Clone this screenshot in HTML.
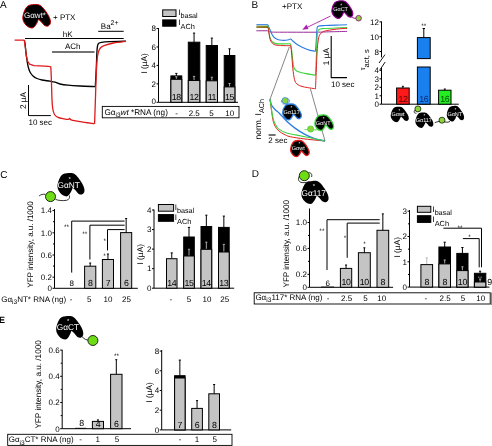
<!DOCTYPE html>
<html><head><meta charset="utf-8"><style>
html,body{margin:0;padding:0;background:#fff;}
svg{display:block;will-change:transform;filter:blur(0.25px);}
text{font-family:"Liberation Sans", sans-serif;text-rendering:geometricPrecision;}
</style></head><body>
<svg width="492" height="446" viewBox="0 0 492 446">
<rect width="492" height="446" fill="#fff"/>
<text x="0" y="7.6" font-size="10" text-anchor="start" fill="#000" >A</text>
<path d="M57,53 C58.7,54.5 63.3,58.3 67,62 C70.7,65.7 74.8,72.6 79,75 C83.2,77.4 88.5,78.3 92,76.5 C95.5,74.7 99.8,70.1 100,64 C100.2,57.9 98.5,49.7 93,40 C87.5,30.3 75.5,12.7 67,6 C58.5,-0.7 50.7,-0.5 42,0 C33.3,0.5 21.8,1.2 15,9 C8.2,16.8 1.5,36.3 1,47 C0.5,57.7 6.5,66.8 12,73 C17.5,79.2 28.0,84.2 34,84 C40.0,83.8 44.2,77.2 48,72 C51.8,66.8 55.5,56.2 57,53 Z" transform="translate(22.5,4.5) scale(0.28,0.27976190476190477)" fill="#000" stroke="#c80000" stroke-width="3.57"/>
<text x="24.0" y="18.2" font-size="8" text-anchor="start" fill="#fff" >G&#945;wt*</text>
<text x="53" y="20" font-size="8" text-anchor="start" fill="#000" >+ PTX</text>
<text x="100.8" y="28.6" font-size="8" text-anchor="start" fill="#000" >Ba<tspan font-size="7" dy="-4">2+</tspan></text>
<line x1="98.2" y1="31.3" x2="123.7" y2="31.3" stroke="#000" stroke-width="1" />
<text x="62.8" y="36.8" font-size="8" text-anchor="start" fill="#000" >hK</text>
<line x1="25" y1="38.5" x2="123.7" y2="38.5" stroke="#000" stroke-width="1" />
<text x="65" y="49" font-size="8" text-anchor="start" fill="#000" >ACh</text>
<line x1="52" y1="52" x2="94.5" y2="52" stroke="#444" stroke-width="1.3" />
<path d="M24.5,40.3 C24.63,41.25 24.97,43.22 25.3,46 C25.63,48.78 26.05,53.67 26.5,57 C26.95,60.33 27.42,63.50 28,66 C28.58,68.50 29.17,70.33 30,72 C30.83,73.67 31.83,74.92 33,76 C34.17,77.08 35.50,77.83 37,78.5 C38.50,79.17 39.83,79.55 42,80 C44.17,80.45 47.83,80.83 50,81.2 C52.17,81.57 53.33,81.73 55,82.2 C56.67,82.67 57.83,83.50 60,84 C62.17,84.50 64.67,84.87 68,85.2 C71.33,85.53 75.45,85.77 80,86 C84.55,86.23 92.75,86.50 95.3,86.6" fill="none" stroke="#000" stroke-width="1.3" stroke-linejoin="round" />
<path d="M95.3,86.6 C95.45,83.83 95.93,75.77 96.2,70 C96.47,64.23 96.67,56.08 96.9,52 C97.13,47.92 97.28,46.97 97.6,45.5 C97.92,44.03 98.15,43.73 98.8,43.2 C99.45,42.67 99.63,42.55 101.5,42.3 C103.37,42.05 105.92,41.88 110,41.7 C114.08,41.52 123.33,41.28 126,41.2" fill="none" stroke="#000" stroke-width="1.3" stroke-linejoin="round" />
<polyline points="14.6,40.2 24.2,40.2 25,45 26.2,55 27.5,61 29.5,64.2 34,65.6 45,66.2 50.8,66.6" fill="none" stroke="#e01a1a" stroke-width="1.3" stroke-linejoin="round" />
<path d="M50.8,66.6 C50.90,68.83 51.20,74.43 51.4,80 C51.60,85.57 51.77,95.17 52,100 C52.23,104.83 52.38,106.58 52.8,109 C53.22,111.42 53.63,113.12 54.5,114.5 C55.37,115.88 56.42,116.58 58,117.3 C59.58,118.02 62.30,118.45 64,118.8 C65.70,119.15 67.27,119.47 68.2,119.4 C69.13,119.33 69.10,118.33 69.6,118.4 C70.10,118.47 69.47,119.27 71.2,119.8 C72.93,120.33 76.10,120.95 80,121.6 C83.90,122.25 92.17,123.35 94.6,123.7" fill="none" stroke="#e01a1a" stroke-width="1.3" stroke-linejoin="round" />
<path d="M94.6,123.7 C94.73,119.75 95.13,108.12 95.4,100 C95.67,91.88 95.92,81.67 96.2,75 C96.48,68.33 96.73,63.83 97.1,60 C97.47,56.17 97.82,54.03 98.4,52 C98.98,49.97 99.67,48.87 100.6,47.8 C101.53,46.73 101.83,46.40 104,45.6 C106.17,44.80 109.97,43.72 113.6,43 C117.23,42.28 123.77,41.58 125.8,41.3" fill="none" stroke="#e01a1a" stroke-width="1.3" stroke-linejoin="round" />
<polyline points="28.5,85 28.5,115.6 50.8,115.6" fill="none" stroke="#000" stroke-width="1" stroke-linejoin="round" />
<text transform="translate(25.8,100.5) rotate(-90)" font-size="8.3" text-anchor="middle" >2 &#181;A</text>
<text x="28.5" y="125.2" font-size="8" text-anchor="start" fill="#000" >10 sec</text>
<line x1="158.5" y1="28.039999999999992" x2="158.5" y2="102.3" stroke="#000" stroke-width="1" />
<line x1="156.5" y1="102.3" x2="158.5" y2="102.3" stroke="#000" stroke-width="1" />
<line x1="156.5" y1="83.86" x2="158.5" y2="83.86" stroke="#000" stroke-width="1" />
<line x1="156.5" y1="65.41999999999999" x2="158.5" y2="65.41999999999999" stroke="#000" stroke-width="1" />
<line x1="156.5" y1="46.97999999999999" x2="158.5" y2="46.97999999999999" stroke="#000" stroke-width="1" />
<line x1="156.5" y1="28.539999999999992" x2="158.5" y2="28.539999999999992" stroke="#000" stroke-width="1" />
<text x="155.9" y="103.5" font-size="8" text-anchor="end" fill="#000" >0</text>
<text x="155.9" y="86.66" font-size="8" text-anchor="end" fill="#000" >2</text>
<text x="155.9" y="68.21999999999998" font-size="8" text-anchor="end" fill="#000" >4</text>
<text x="155.9" y="49.77999999999999" font-size="8" text-anchor="end" fill="#000" >6</text>
<text x="155.9" y="31.339999999999993" font-size="8" text-anchor="end" fill="#000" >8</text>
<line x1="158.5" y1="102.3" x2="238" y2="102.3" stroke="#000" stroke-width="1" />
<text transform="translate(147.2,63.4) rotate(-90)" font-size="8.3" text-anchor="middle" >I (&#181;A)</text>
<rect x="162.7" y="9.9" width="13.3" height="6.6" fill="#c4c4c4" stroke="#000" stroke-width="1"/>
<rect x="162.7" y="19.9" width="13.3" height="6.3" fill="#000" stroke="#000" stroke-width="1"/>
<text x="178.3" y="15.3" font-size="8" text-anchor="start" fill="#000" >I<tspan font-size="7.2" dy="3.0">basal</tspan></text>
<text x="178.3" y="25.3" font-size="8" text-anchor="start" fill="#000" >I<tspan font-size="7.4" dy="3.9">ACh</tspan></text>
<rect x="170.9" y="75.9" width="10.900000000000006" height="26.39999999999999" fill="#000" stroke="#000" stroke-width="1"/>
<line x1="176.35000000000002" y1="73.4" x2="176.35000000000002" y2="75.9" stroke="#000" stroke-width="1" />
<line x1="175.25000000000003" y1="73.4" x2="177.45000000000002" y2="73.4" stroke="#000" stroke-width="1" />
<rect x="170.9" y="79.3" width="10.900000000000006" height="23.0" fill="#c4c4c4" stroke="#000" stroke-width="1"/>
<line x1="176.35000000000002" y1="76.8" x2="176.35000000000002" y2="78.8" stroke="#a8a8a8" stroke-width="1" />
<line x1="175.25000000000003" y1="76.8" x2="177.45000000000002" y2="76.8" stroke="#a8a8a8" stroke-width="1" />
<text x="176.35000000000002" y="100.39999999999999" font-size="8.8" text-anchor="middle" fill="#000" letter-spacing="-0.35">18</text>
<rect x="188.3" y="42.2" width="11.5" height="60.099999999999994" fill="#000" stroke="#000" stroke-width="1"/>
<line x1="194.05" y1="33.1" x2="194.05" y2="42.2" stroke="#000" stroke-width="1" />
<line x1="192.95000000000002" y1="33.1" x2="195.15" y2="33.1" stroke="#000" stroke-width="1" />
<rect x="188.3" y="80.5" width="11.5" height="21.799999999999997" fill="#c4c4c4" stroke="#000" stroke-width="1"/>
<line x1="194.05" y1="76.4" x2="194.05" y2="80.0" stroke="#a8a8a8" stroke-width="1" />
<line x1="192.95000000000002" y1="76.4" x2="195.15" y2="76.4" stroke="#a8a8a8" stroke-width="1" />
<text x="194.05" y="100.39999999999999" font-size="8.8" text-anchor="middle" fill="#000" letter-spacing="-0.35">12</text>
<rect x="206.2" y="45.5" width="11.300000000000011" height="56.8" fill="#000" stroke="#000" stroke-width="1"/>
<line x1="211.85" y1="38.1" x2="211.85" y2="45.5" stroke="#000" stroke-width="1" />
<line x1="210.75" y1="38.1" x2="212.95" y2="38.1" stroke="#000" stroke-width="1" />
<rect x="206.2" y="80.8" width="11.300000000000011" height="21.5" fill="#c4c4c4" stroke="#000" stroke-width="1"/>
<line x1="211.85" y1="77.2" x2="211.85" y2="80.3" stroke="#a8a8a8" stroke-width="1" />
<line x1="210.75" y1="77.2" x2="212.95" y2="77.2" stroke="#a8a8a8" stroke-width="1" />
<text x="211.85" y="100.39999999999999" font-size="8.8" text-anchor="middle" fill="#000" letter-spacing="-0.35">11</text>
<rect x="224.2" y="55.5" width="10.700000000000017" height="46.8" fill="#000" stroke="#000" stroke-width="1"/>
<line x1="229.55" y1="48.8" x2="229.55" y2="55.5" stroke="#000" stroke-width="1" />
<line x1="228.45000000000002" y1="48.8" x2="230.65" y2="48.8" stroke="#000" stroke-width="1" />
<rect x="224.2" y="86.9" width="10.700000000000017" height="15.399999999999991" fill="#c4c4c4" stroke="#000" stroke-width="1"/>
<line x1="229.55" y1="83.5" x2="229.55" y2="86.4" stroke="#a8a8a8" stroke-width="1" />
<line x1="228.45000000000002" y1="83.5" x2="230.65" y2="83.5" stroke="#a8a8a8" stroke-width="1" />
<text x="229.55" y="100.39999999999999" font-size="8.8" text-anchor="middle" fill="#000" letter-spacing="-0.35">15</text>
<rect x="102.3" y="106.4" width="136.7" height="11.4" fill="#fff" stroke="#000" stroke-width="0.9"/>
<text x="104.4" y="114.9" font-size="8.2" text-anchor="start" fill="#000" >G&#945;<tspan font-size="6.5" dy="2.3">i3</tspan><tspan dy="-2.3" font-style="italic">wt</tspan> *RNA (ng)</text>
<text x="176.6" y="115.5" font-size="8" text-anchor="middle" fill="#000" >-</text>
<text x="194.2" y="115.5" font-size="8" text-anchor="middle" fill="#000" >2.5</text>
<text x="211.5" y="115.5" font-size="8" text-anchor="middle" fill="#000" >5</text>
<text x="229.7" y="115.5" font-size="8" text-anchor="middle" fill="#000" >10</text>
<text x="251.5" y="7.8" font-size="10" text-anchor="start" fill="#000" >B</text>
<text x="282" y="8.9" font-size="8" text-anchor="start" fill="#000" >+PTX</text>
<line x1="330.6" y1="16" x2="305.5" y2="28.2" stroke="#b020b0" stroke-width="0.9" />
<polygon points="302.3,29.8 306.5,24.6 308.5,29.0" fill="#b020b0"/>
<path d="M350,14.5 C351,17 353,18.5 356,18.3" fill="none" stroke="#900090" stroke-width="0.9" stroke-linejoin="round" />
<path d="M57,53 C58.7,54.5 63.3,58.3 67,62 C70.7,65.7 74.8,72.6 79,75 C83.2,77.4 88.5,78.3 92,76.5 C95.5,74.7 99.8,70.1 100,64 C100.2,57.9 98.5,49.7 93,40 C87.5,30.3 75.5,12.7 67,6 C58.5,-0.7 50.7,-0.5 42,0 C33.3,0.5 21.8,1.2 15,9 C8.2,16.8 1.5,36.3 1,47 C0.5,57.7 6.5,66.8 12,73 C17.5,79.2 28.0,84.2 34,84 C40.0,83.8 44.2,77.2 48,72 C51.8,66.8 55.5,56.2 57,53 Z" transform="translate(331.6,0.7) scale(0.213,0.2119047619047619)" fill="#000" stroke="#900090" stroke-width="5.16"/>
<text x="333.2" y="11.4" font-size="5.5" text-anchor="start" fill="#fff" >G&#945;CT</text>
<text x="341.3" y="6.5" font-size="5" text-anchor="middle" fill="#fff" >*</text>
<circle cx="358.6" cy="18.2" r="2.8" fill="#8cd43a" stroke="#900090" stroke-width="0.8"/>
<path d="M256.4,30.8 C258.25,30.80 265.32,30.70 267.5,30.8 C269.68,30.90 268.75,31.18 269.5,31.4 C270.25,31.62 268.58,31.97 272,32.1 C275.42,32.23 282.67,32.18 290,32.2 C297.33,32.22 309.33,32.27 316,32.2 C322.67,32.13 324.83,31.93 330,31.8 C335.17,31.67 344.17,31.47 347,31.4" fill="none" stroke="#9a2a9a" stroke-width="1.0" stroke-linejoin="round" />
<polyline points="256.4,24.7 267.8,24.7" fill="none" stroke="#2a7be0" stroke-width="1.1" stroke-linejoin="round" />
<path d="M267.8,24.7 C268.03,25.25 268.70,26.88 269.2,28 C269.70,29.12 270.30,30.27 270.8,31.4 C271.30,32.53 271.63,33.78 272.2,34.8 C272.77,35.82 273.30,36.73 274.2,37.5 C275.10,38.27 276.30,38.93 277.6,39.4 C278.90,39.87 280.60,40.15 282,40.3 C283.40,40.45 284.87,40.38 286,40.3 C287.13,40.22 288.03,40.02 288.8,39.8 C289.57,39.58 289.90,38.77 290.6,39.0 C291.30,39.23 291.77,40.20 293,41.2 C294.23,42.20 296.02,43.77 298,45 C299.98,46.23 302.90,47.70 304.9,48.6 C306.90,49.50 308.23,49.97 310,50.4 C311.77,50.83 314.58,51.07 315.5,51.2" fill="none" stroke="#2a7be0" stroke-width="1.1" stroke-linejoin="round" />
<path d="M315.5,51.2 C315.63,49.33 316.05,43.70 316.3,40 C316.55,36.30 316.68,31.28 317.0,29 C317.32,26.72 316.87,26.88 318.2,26.3 C319.53,25.72 321.43,25.72 325,25.5 C328.57,25.28 335.93,25.12 339.6,25.0 C343.27,24.88 345.77,24.83 347,24.8" fill="none" stroke="#2a7be0" stroke-width="1.1" stroke-linejoin="round" />
<polyline points="256.4,26.3 268.1,26.4" fill="none" stroke="#7a8a10" stroke-width="1.1" stroke-linejoin="round" />
<path d="M268.1,26.4 C268.22,27.17 268.57,29.48 268.8,31 C269.03,32.52 269.17,34.08 269.5,35.5 C269.83,36.92 270.25,38.38 270.8,39.5 C271.35,40.62 271.90,41.52 272.8,42.2 C273.70,42.88 274.67,43.32 276.2,43.6 C277.73,43.88 279.65,43.87 282,43.9 C284.35,43.93 288.92,43.82 290.3,43.8" fill="none" stroke="#3fd43f" stroke-width="1.1" stroke-linejoin="round" />
<path d="M290.3,43.6 C290.47,44.17 290.93,44.60 291.3,47 C291.67,49.40 292.07,54.58 292.5,58 C292.93,61.42 293.15,65.28 293.9,67.5 C294.65,69.72 295.17,70.32 297,71.3 C298.83,72.28 301.82,72.73 304.9,73.4 C307.98,74.07 313.73,74.98 315.5,75.3" fill="none" stroke="#3fd43f" stroke-width="1.1" stroke-linejoin="round" />
<path d="M315.5,75.3 C315.65,71.92 316.12,61.55 316.4,55 C316.68,48.45 316.83,40.20 317.2,36 C317.57,31.80 317.30,31.05 318.6,29.8 C319.90,28.55 321.50,28.83 325,28.5 C328.50,28.17 335.93,27.97 339.6,27.8 C343.27,27.63 345.77,27.55 347,27.5" fill="none" stroke="#3fd43f" stroke-width="1.1" stroke-linejoin="round" />
<polyline points="256.4,27.3 268.1,27.4" fill="none" stroke="#7a5a00" stroke-width="1.0" stroke-linejoin="round" />
<path d="M268.1,27.4 C268.22,28.17 268.55,30.40 268.8,32 C269.05,33.60 269.23,35.42 269.6,37 C269.97,38.58 270.23,40.23 271,41.5 C271.77,42.77 273.03,43.97 274.2,44.6 C275.37,45.23 276.70,45.13 278,45.3 C279.30,45.47 279.92,45.53 282,45.6 C284.08,45.67 289.08,45.68 290.5,45.7" fill="none" stroke="#e02020" stroke-width="1.0" stroke-linejoin="round" />
<path d="M290.5,45.5 C290.67,46.58 291.12,48.25 291.5,52 C291.88,55.75 292.30,63.42 292.8,68 C293.30,72.58 293.80,76.83 294.5,79.5 C295.20,82.17 295.58,82.80 297,84 C298.42,85.20 299.92,85.90 303,86.7 C306.08,87.50 313.42,88.45 315.5,88.8" fill="none" stroke="#e02020" stroke-width="1.0" stroke-linejoin="round" />
<path d="M315.5,88.8 C315.63,85.67 316.03,76.13 316.3,70 C316.57,63.87 316.80,56.83 317.1,52 C317.40,47.17 317.70,43.80 318.1,41 C318.50,38.20 318.85,36.63 319.5,35.2 C320.15,33.77 320.78,33.17 322,32.4 C323.22,31.63 323.87,31.20 326.8,30.6 C329.73,30.00 336.23,29.15 339.6,28.8 C342.97,28.45 345.77,28.55 347,28.5" fill="none" stroke="#e02020" stroke-width="1.0" stroke-linejoin="round" />
<polyline points="331.2,36 331.2,77.6 347,77.6" fill="none" stroke="#000" stroke-width="1.1" stroke-linejoin="round" />
<text transform="translate(328.7,56.6) rotate(-90)" font-size="8.3" text-anchor="middle" >1 &#181;A</text>
<text x="331.0" y="86.6" font-size="8" text-anchor="start" fill="#000" >10 sec</text>
<line x1="289.3" y1="47" x2="270" y2="99.3" stroke="#333" stroke-width="0.6" />
<line x1="310.4" y1="88.7" x2="325" y2="141" stroke="#333" stroke-width="0.6" />
<path d="M270,99.3 C270.22,100.92 270.87,105.88 271.3,109 C271.73,112.12 272.15,115.53 272.6,118 C273.05,120.47 273.35,122.07 274,123.8 C274.65,125.53 275.62,127.15 276.5,128.4 C277.38,129.65 278.05,130.32 279.3,131.3 C280.55,132.28 282.18,133.40 284,134.3 C285.82,135.20 286.70,135.92 290.2,136.7 C293.70,137.48 299.20,138.28 305,139 C310.80,139.72 321.67,140.67 325,141" fill="none" stroke="#e02020" stroke-width="1.0" stroke-linejoin="round" />
<path d="M270,99.3 C270.25,100.25 270.67,103.30 271.5,105 C272.33,106.70 273.70,108.13 275,109.5 C276.30,110.87 277.30,111.20 279.3,113.2 C281.30,115.20 284.27,118.93 287,121.5 C289.73,124.07 292.72,126.45 295.7,128.6 C298.68,130.75 301.85,132.78 304.9,134.4 C307.95,136.02 310.65,137.20 314,138.3 C317.35,139.40 323.17,140.55 325,141" fill="none" stroke="#2a7be0" stroke-width="1.3" stroke-linejoin="round" />
<path d="M270,99.3 C270.22,100.75 270.87,105.22 271.3,108 C271.73,110.78 272.15,113.77 272.6,116 C273.05,118.23 273.35,119.68 274,121.4 C274.65,123.12 275.62,124.97 276.5,126.3 C277.38,127.63 277.72,128.32 279.3,129.4 C280.88,130.48 283.27,131.88 286,132.8 C288.73,133.72 291.70,134.07 295.7,134.9 C299.70,135.73 305.12,136.78 310,137.8 C314.88,138.82 322.50,140.47 325,141" fill="none" stroke="#3fd43f" stroke-width="1.1" stroke-linejoin="round" />
<text transform="translate(261.2,119.3) rotate(-90)" font-size="8.5" text-anchor="middle" >norm. I<tspan font-size="7.2" dy="2.7">ACh</tspan></text>
<line x1="268.6" y1="135.0" x2="275.6" y2="135.0" stroke="#000" stroke-width="1.1" />
<text x="268.3" y="143.2" font-size="8" text-anchor="start" fill="#000" >2 sec</text>
<path d="M281.5,102.5 C281,100 283,98.3 286,98.5 C289,98.7 290.5,100.5 289,102.5 C288,104 285,104.5 282.5,103.8" fill="none" stroke="#2a7be0" stroke-width="0.8" stroke-linejoin="round" />
<path d="M57,53 C58.7,54.5 63.3,58.3 67,62 C70.7,65.7 74.8,72.6 79,75 C83.2,77.4 88.5,78.3 92,76.5 C95.5,74.7 99.8,70.1 100,64 C100.2,57.9 98.5,49.7 93,40 C87.5,30.3 75.5,12.7 67,6 C58.5,-0.7 50.7,-0.5 42,0 C33.3,0.5 21.8,1.2 15,9 C8.2,16.8 1.5,36.3 1,47 C0.5,57.7 6.5,66.8 12,73 C17.5,79.2 28.0,84.2 34,84 C40.0,83.8 44.2,77.2 48,72 C51.8,66.8 55.5,56.2 57,53 Z" transform="translate(282.5,104.0) scale(0.188,0.1880952380952381)" fill="#000" stroke="#2a7be0" stroke-width="6.91"/>
<text x="283.5" y="113.6" font-size="5.5" text-anchor="start" fill="#fff" >G&#945;117</text>
<text x="291.5" y="108.8" font-size="4.5" text-anchor="middle" fill="#fff" >*</text>
<circle cx="285.2" cy="100.6" r="3.1" fill="#8cd43a" stroke="#2a7be0" stroke-width="0.7"/>
<path d="M304.5,129.5 C307,130 309,129 311,129.3 C314,130 318,130.5 321,128.5" fill="none" stroke="#3fd43f" stroke-width="0.8" stroke-linejoin="round" />
<path d="M57,53 C58.7,54.5 63.3,58.3 67,62 C70.7,65.7 74.8,72.6 79,75 C83.2,77.4 88.5,78.3 92,76.5 C95.5,74.7 99.8,70.1 100,64 C100.2,57.9 98.5,49.7 93,40 C87.5,30.3 75.5,12.7 67,6 C58.5,-0.7 50.7,-0.5 42,0 C33.3,0.5 21.8,1.2 15,9 C8.2,16.8 1.5,36.3 1,47 C0.5,57.7 6.5,66.8 12,73 C17.5,79.2 28.0,84.2 34,84 C40.0,83.8 44.2,77.2 48,72 C51.8,66.8 55.5,56.2 57,53 Z" transform="translate(314.7,115.0) scale(0.18899999999999997,0.18452380952380953)" fill="#000" stroke="#3fd43f" stroke-width="6.88"/>
<text x="315.8" y="124.6" font-size="5.5" text-anchor="start" fill="#fff" >G&#945;NT</text>
<text x="323.7" y="119.6" font-size="4.5" text-anchor="middle" fill="#fff" >*</text>
<circle cx="310.6" cy="129.0" r="3.1" fill="#8cd43a" stroke="#3fd43f" stroke-width="0.7"/>
<path d="M57,53 C58.7,54.5 63.3,58.3 67,62 C70.7,65.7 74.8,72.6 79,75 C83.2,77.4 88.5,78.3 92,76.5 C95.5,74.7 99.8,70.1 100,64 C100.2,57.9 98.5,49.7 93,40 C87.5,30.3 75.5,12.7 67,6 C58.5,-0.7 50.7,-0.5 42,0 C33.3,0.5 21.8,1.2 15,9 C8.2,16.8 1.5,36.3 1,47 C0.5,57.7 6.5,66.8 12,73 C17.5,79.2 28.0,84.2 34,84 C40.0,83.8 44.2,77.2 48,72 C51.8,66.8 55.5,56.2 57,53 Z" transform="translate(290.4,140.5) scale(0.188,0.19285714285714284)" fill="#000" stroke="#e02020" stroke-width="6.91"/>
<text x="291.8" y="150.3" font-size="5.5" text-anchor="start" fill="#fff" >G&#945;wt</text>
<text x="299.4" y="145.4" font-size="4.5" text-anchor="middle" fill="#fff" >*</text>
<line x1="381.5" y1="21.4" x2="381.5" y2="57.4" stroke="#000" stroke-width="1" />
<line x1="381.5" y1="67.5" x2="381.5" y2="104.2" stroke="#000" stroke-width="1" />
<line x1="381.5" y1="104.2" x2="458.8" y2="104.2" stroke="#000" stroke-width="1" />
<line x1="379.5" y1="21.9" x2="381.5" y2="21.9" stroke="#000" stroke-width="1" />
<text x="378.9" y="25.4" font-size="8" text-anchor="end" fill="#000" >12</text>
<line x1="379.5" y1="36.7" x2="381.5" y2="36.7" stroke="#000" stroke-width="1" />
<text x="378.9" y="40.2" font-size="8" text-anchor="end" fill="#000" >10</text>
<line x1="379.5" y1="51.5" x2="381.5" y2="51.5" stroke="#000" stroke-width="1" />
<text x="378.9" y="55.0" font-size="8" text-anchor="end" fill="#000" >8</text>
<line x1="379.5" y1="104.2" x2="381.5" y2="104.2" stroke="#000" stroke-width="1" />
<text x="378.9" y="107.0" font-size="8" text-anchor="end" fill="#000" >0</text>
<line x1="379.5" y1="95.75" x2="381.5" y2="95.75" stroke="#000" stroke-width="1" />
<text x="378.9" y="98.55" font-size="8" text-anchor="end" fill="#000" >1</text>
<line x1="379.5" y1="87.30000000000001" x2="381.5" y2="87.30000000000001" stroke="#000" stroke-width="1" />
<text x="378.9" y="90.10000000000001" font-size="8" text-anchor="end" fill="#000" >2</text>
<line x1="379.5" y1="78.85000000000001" x2="381.5" y2="78.85000000000001" stroke="#000" stroke-width="1" />
<text x="378.9" y="81.65" font-size="8" text-anchor="end" fill="#000" >3</text>
<line x1="379.5" y1="70.4" x2="381.5" y2="70.4" stroke="#000" stroke-width="1" />
<text x="378.9" y="73.2" font-size="8" text-anchor="end" fill="#000" >4</text>
<line x1="379.1" y1="63.0" x2="385.0" y2="54.6" stroke="#000" stroke-width="0.9" />
<line x1="379.8" y1="70.0" x2="385.2" y2="62.0" stroke="#000" stroke-width="0.9" />
<text transform="translate(365.3,59.7) rotate(-90)" font-size="7" text-anchor="middle" >&#964;<tspan font-size="7.6" dy="3.5">act, s</tspan></text>
<rect x="396.6" y="88.0" width="12.6" height="16.200000000000003" fill="#ff1a1a" stroke="#000" stroke-width="1"/>
<line x1="402.9" y1="86.3" x2="402.9" y2="88.0" stroke="#000" stroke-width="1" />
<line x1="401.9" y1="86.3" x2="403.9" y2="86.3" stroke="#000" stroke-width="1" />
<text x="403.0" y="101.9" font-size="8.8" text-anchor="middle" fill="#600000" letter-spacing="-0.35">12</text>
<rect x="417.4" y="67.0" width="12.8" height="37.2" fill="#1a80f0" stroke="#000" stroke-width="1"/>
<rect x="417.4" y="37.6" width="12.8" height="21.0" fill="#1a80f0" stroke="#000" stroke-width="1"/>
<line x1="423.8" y1="28.5" x2="423.8" y2="37.6" stroke="#000" stroke-width="1" />
<line x1="422.6" y1="28.5" x2="425.0" y2="28.5" stroke="#000" stroke-width="1" />
<text x="423.8" y="27.9" font-size="6.5" text-anchor="middle" fill="#000" >**</text>
<text x="423.8" y="101.9" font-size="8.8" text-anchor="middle" fill="#0a2a6a" letter-spacing="-0.35">16</text>
<rect x="438.6" y="90.2" width="12.4" height="14.0" fill="#22ee22" stroke="#000" stroke-width="1"/>
<line x1="444.8" y1="89.0" x2="444.8" y2="90.2" stroke="#000" stroke-width="1" />
<line x1="443.8" y1="89.0" x2="445.8" y2="89.0" stroke="#000" stroke-width="1" />
<text x="444.8" y="101.9" font-size="8.8" text-anchor="middle" fill="#0a4a0a" letter-spacing="-0.35">16</text>
<path d="M57,53 C58.7,54.5 63.3,58.3 67,62 C70.7,65.7 74.8,72.6 79,75 C83.2,77.4 88.5,78.3 92,76.5 C95.5,74.7 99.8,70.1 100,64 C100.2,57.9 98.5,49.7 93,40 C87.5,30.3 75.5,12.7 67,6 C58.5,-0.7 50.7,-0.5 42,0 C33.3,0.5 21.8,1.2 15,9 C8.2,16.8 1.5,36.3 1,47 C0.5,57.7 6.5,66.8 12,73 C17.5,79.2 28.0,84.2 34,84 C40.0,83.8 44.2,77.2 48,72 C51.8,66.8 55.5,56.2 57,53 Z" transform="translate(390.5,106.8) scale(0.183,0.18333333333333335)" fill="#000"/>
<text x="391.5" y="116.3" font-size="5.5" text-anchor="start" fill="#fff" >G&#945;wt</text>
<text x="399.5" y="111.6" font-size="4.5" text-anchor="middle" fill="#fff" >*</text>
<path d="M415,110 C413.5,111.5 414,113.5 416.5,113.2" fill="none" stroke="#000" stroke-width="0.8" stroke-linejoin="round" />
<path d="M57,53 C58.7,54.5 63.3,58.3 67,62 C70.7,65.7 74.8,72.6 79,75 C83.2,77.4 88.5,78.3 92,76.5 C95.5,74.7 99.8,70.1 100,64 C100.2,57.9 98.5,49.7 93,40 C87.5,30.3 75.5,12.7 67,6 C58.5,-0.7 50.7,-0.5 42,0 C33.3,0.5 21.8,1.2 15,9 C8.2,16.8 1.5,36.3 1,47 C0.5,57.7 6.5,66.8 12,73 C17.5,79.2 28.0,84.2 34,84 C40.0,83.8 44.2,77.2 48,72 C51.8,66.8 55.5,56.2 57,53 Z" transform="translate(415.2,112.6) scale(0.182,0.18333333333333335)" fill="#000"/>
<text x="415.7" y="122.1" font-size="5.5" text-anchor="start" fill="#fff" >G&#945;117</text>
<text x="424.3" y="117.3" font-size="4.5" text-anchor="middle" fill="#fff" >*</text>
<circle cx="417.9" cy="108.9" r="3.0" fill="#8cd43a" stroke="#000" stroke-width="0.7"/>
<path d="M434.8,122.6 C437,122 439,121 442,121.3 C445,121.8 447,123 450,121.5" fill="none" stroke="#000" stroke-width="0.8" stroke-linejoin="round" />
<path d="M57,53 C58.7,54.5 63.3,58.3 67,62 C70.7,65.7 74.8,72.6 79,75 C83.2,77.4 88.5,78.3 92,76.5 C95.5,74.7 99.8,70.1 100,64 C100.2,57.9 98.5,49.7 93,40 C87.5,30.3 75.5,12.7 67,6 C58.5,-0.7 50.7,-0.5 42,0 C33.3,0.5 21.8,1.2 15,9 C8.2,16.8 1.5,36.3 1,47 C0.5,57.7 6.5,66.8 12,73 C17.5,79.2 28.0,84.2 34,84 C40.0,83.8 44.2,77.2 48,72 C51.8,66.8 55.5,56.2 57,53 Z" transform="translate(446.6,105.9) scale(0.175,0.18571428571428572)" fill="#000"/>
<text x="447.4" y="115.5" font-size="5.5" text-anchor="start" fill="#fff" >G&#945;NT</text>
<text x="455.3" y="110.5" font-size="4.5" text-anchor="middle" fill="#fff" >*</text>
<circle cx="442.0" cy="120.2" r="3.0" fill="#8cd43a" stroke="#000" stroke-width="0.7"/>
<text x="0.3" y="177.5" font-size="10" text-anchor="start" fill="#000" >C</text>
<path d="M39.1,196 C41,194.5 43,194 45.4,194.3" fill="none" stroke="#000" stroke-width="0.8" stroke-linejoin="round" />
<path d="M55.4,199.3 C58,200.5 62,201 66.6,200.3 C69,199.8 69.8,198 69.5,195.5" fill="none" stroke="#000" stroke-width="0.8" stroke-linejoin="round" />
<path d="M57,53 C58.7,54.5 63.3,58.3 67,62 C70.7,65.7 74.8,72.6 79,75 C83.2,77.4 88.5,78.3 92,76.5 C95.5,74.7 99.8,70.1 100,64 C100.2,57.9 98.5,49.7 93,40 C87.5,30.3 75.5,12.7 67,6 C58.5,-0.7 50.7,-0.5 42,0 C33.3,0.5 21.8,1.2 15,9 C8.2,16.8 1.5,36.3 1,47 C0.5,57.7 6.5,66.8 12,73 C17.5,79.2 28.0,84.2 34,84 C40.0,83.8 44.2,77.2 48,72 C51.8,66.8 55.5,56.2 57,53 Z" transform="translate(57.2,173.0) scale(0.273,0.2785714285714286)" fill="#000"/>
<text x="57.6" y="187.9" font-size="8.3" text-anchor="start" fill="#fff" >G&#945;NT</text>
<text x="69.6" y="180.8" font-size="6" text-anchor="middle" fill="#fff" >*</text>
<circle cx="50.5" cy="196.6" r="5.0" fill="#6edc14" stroke="#111" stroke-width="0.9"/>
<line x1="54.5" y1="209.0" x2="54.5" y2="288.3" stroke="#000" stroke-width="1" />
<line x1="54.5" y1="288.3" x2="137.8" y2="288.3" stroke="#000" stroke-width="1" />
<line x1="52.5" y1="288.3" x2="54.5" y2="288.3" stroke="#000" stroke-width="1" />
<text x="51.9" y="291.1" font-size="8" text-anchor="end" fill="#000" >0</text>
<line x1="52.5" y1="277.2" x2="54.5" y2="277.2" stroke="#000" stroke-width="1" />
<text x="51.9" y="280.0" font-size="8" text-anchor="end" fill="#000" >0.2</text>
<line x1="52.5" y1="255.0" x2="54.5" y2="255.0" stroke="#000" stroke-width="1" />
<text x="51.9" y="257.8" font-size="8" text-anchor="end" fill="#000" >0.6</text>
<line x1="52.5" y1="232.8" x2="54.5" y2="232.8" stroke="#000" stroke-width="1" />
<text x="51.9" y="235.60000000000002" font-size="8" text-anchor="end" fill="#000" >1.0</text>
<line x1="52.5" y1="210.60000000000002" x2="54.5" y2="210.60000000000002" stroke="#000" stroke-width="1" />
<text x="51.9" y="213.40000000000003" font-size="8" text-anchor="end" fill="#000" >1.4</text>
<line x1="53.0" y1="266.1" x2="54.5" y2="266.1" stroke="#000" stroke-width="1" />
<line x1="53.0" y1="243.9" x2="54.5" y2="243.9" stroke="#000" stroke-width="1" />
<line x1="53.0" y1="221.70000000000002" x2="54.5" y2="221.70000000000002" stroke="#000" stroke-width="1" />
<text transform="translate(32.6,244.5) rotate(-90)" font-size="8" text-anchor="middle" >YFP intensity, a.u. /1000</text>
<text x="71.8" y="286.0" font-size="8" text-anchor="middle" fill="#000" >8</text>
<rect x="84.6" y="266.2" width="11.200000000000003" height="22.100000000000023" fill="#c4c4c4" stroke="#000" stroke-width="1"/>
<line x1="90.19999999999999" y1="263.0" x2="90.19999999999999" y2="266.2" stroke="#000" stroke-width="1" />
<line x1="89.19999999999999" y1="263.0" x2="91.19999999999999" y2="263.0" stroke="#000" stroke-width="1" />
<text x="90.19999999999999" y="286.40000000000003" font-size="8.8" text-anchor="middle" fill="#000" letter-spacing="-0.35">8</text>
<rect x="102.4" y="259.5" width="11.099999999999994" height="28.80000000000001" fill="#c4c4c4" stroke="#000" stroke-width="1"/>
<line x1="107.95" y1="254.0" x2="107.95" y2="259.5" stroke="#000" stroke-width="1" />
<line x1="106.95" y1="254.0" x2="108.95" y2="254.0" stroke="#000" stroke-width="1" />
<text x="107.95" y="286.40000000000003" font-size="8.8" text-anchor="middle" fill="#000" letter-spacing="-0.35">7</text>
<rect x="120.6" y="232.6" width="11.099999999999994" height="55.70000000000002" fill="#c4c4c4" stroke="#000" stroke-width="1"/>
<line x1="126.14999999999999" y1="218.5" x2="126.14999999999999" y2="232.6" stroke="#000" stroke-width="1" />
<line x1="125.14999999999999" y1="218.5" x2="127.14999999999999" y2="218.5" stroke="#000" stroke-width="1" />
<text x="126.14999999999999" y="286.40000000000003" font-size="8.8" text-anchor="middle" fill="#000" letter-spacing="-0.35">6</text>
<polyline points="71.7,272.6 71.7,221.1 124.6,221.1" fill="none" stroke="#000" stroke-width="1" stroke-linejoin="round" />
<polyline points="89.9,259.5 89.9,225.2 124.6,225.2" fill="none" stroke="#000" stroke-width="1" stroke-linejoin="round" />
<polyline points="107.5,250.4 107.5,229.6 124.6,229.6" fill="none" stroke="#000" stroke-width="1" stroke-linejoin="round" />
<text x="66.5" y="228.6" font-size="6.5" text-anchor="middle" fill="#000" >**</text>
<text x="84.8" y="236.0" font-size="6.5" text-anchor="middle" fill="#000" >**</text>
<text x="104.8" y="242.5" font-size="6.5" text-anchor="middle" fill="#000" >*</text>
<text x="104.6" y="257.8" font-size="6.5" text-anchor="middle" fill="#000" >*</text>
<line x1="154.0" y1="209.5" x2="154.0" y2="288.2" stroke="#000" stroke-width="1" />
<line x1="154.0" y1="288.2" x2="234.2" y2="288.2" stroke="#000" stroke-width="1" />
<line x1="152.0" y1="288.2" x2="154.0" y2="288.2" stroke="#000" stroke-width="1" />
<text x="151.4" y="291.0" font-size="8" text-anchor="end" fill="#000" >0</text>
<line x1="152.0" y1="268.65" x2="154.0" y2="268.65" stroke="#000" stroke-width="1" />
<text x="151.4" y="271.45" font-size="8" text-anchor="end" fill="#000" >1</text>
<line x1="152.0" y1="249.1" x2="154.0" y2="249.1" stroke="#000" stroke-width="1" />
<text x="151.4" y="251.9" font-size="8" text-anchor="end" fill="#000" >2</text>
<line x1="152.0" y1="229.54999999999998" x2="154.0" y2="229.54999999999998" stroke="#000" stroke-width="1" />
<text x="151.4" y="232.35" font-size="8" text-anchor="end" fill="#000" >3</text>
<line x1="152.0" y1="210.0" x2="154.0" y2="210.0" stroke="#000" stroke-width="1" />
<text x="151.4" y="212.8" font-size="8" text-anchor="end" fill="#000" >4</text>
<text transform="translate(142.8,254.3) rotate(-90)" font-size="8.3" text-anchor="middle" >I (&#181;A)</text>
<rect x="158.4" y="204.5" width="15.2" height="6.7" fill="#c4c4c4" stroke="#000" stroke-width="1"/>
<rect x="158.4" y="214.6" width="15.2" height="6.7" fill="#000" stroke="#000" stroke-width="1"/>
<text x="174.8" y="210.4" font-size="8" text-anchor="start" fill="#000" >I<tspan font-size="7.2" dy="3.0">basal</tspan></text>
<text x="174.8" y="220.4" font-size="8" text-anchor="start" fill="#000" >I<tspan font-size="7.4" dy="3.9">ACh</tspan></text>
<rect x="166.5" y="258.7" width="10.5" height="29.5" fill="#c4c4c4" stroke="#000" stroke-width="1"/>
<line x1="171.75" y1="252.9" x2="171.75" y2="258.2" stroke="#000" stroke-width="1" />
<line x1="170.65" y1="252.9" x2="172.85" y2="252.9" stroke="#000" stroke-width="1" />
<text x="171.75" y="286.3" font-size="8.8" text-anchor="middle" fill="#000" letter-spacing="-0.35">14</text>
<rect x="183.7" y="237.0" width="10.600000000000023" height="51.19999999999999" fill="#000" stroke="#000" stroke-width="1"/>
<line x1="189.0" y1="227.4" x2="189.0" y2="237.0" stroke="#000" stroke-width="1" />
<line x1="187.9" y1="227.4" x2="190.1" y2="227.4" stroke="#000" stroke-width="1" />
<rect x="183.7" y="256.0" width="10.600000000000023" height="32.19999999999999" fill="#c4c4c4" stroke="#000" stroke-width="1"/>
<line x1="189.0" y1="249.3" x2="189.0" y2="255.5" stroke="#a8a8a8" stroke-width="1" />
<line x1="187.9" y1="249.3" x2="190.1" y2="249.3" stroke="#a8a8a8" stroke-width="1" />
<text x="189.0" y="286.3" font-size="8.8" text-anchor="middle" fill="#000" letter-spacing="-0.35">15</text>
<rect x="201.0" y="226.5" width="10.699999999999989" height="61.69999999999999" fill="#000" stroke="#000" stroke-width="1"/>
<line x1="206.35" y1="215.2" x2="206.35" y2="226.5" stroke="#000" stroke-width="1" />
<line x1="205.25" y1="215.2" x2="207.45" y2="215.2" stroke="#000" stroke-width="1" />
<rect x="201.0" y="249.3" width="10.699999999999989" height="38.89999999999998" fill="#c4c4c4" stroke="#000" stroke-width="1"/>
<line x1="206.35" y1="242.2" x2="206.35" y2="248.8" stroke="#a8a8a8" stroke-width="1" />
<line x1="205.25" y1="242.2" x2="207.45" y2="242.2" stroke="#a8a8a8" stroke-width="1" />
<text x="206.35" y="286.3" font-size="8.8" text-anchor="middle" fill="#000" letter-spacing="-0.35">14</text>
<rect x="218.5" y="227.4" width="10.699999999999989" height="60.79999999999998" fill="#000" stroke="#000" stroke-width="1"/>
<line x1="223.85" y1="216.1" x2="223.85" y2="227.4" stroke="#000" stroke-width="1" />
<line x1="222.75" y1="216.1" x2="224.95" y2="216.1" stroke="#000" stroke-width="1" />
<rect x="218.5" y="252.0" width="10.699999999999989" height="36.19999999999999" fill="#c4c4c4" stroke="#000" stroke-width="1"/>
<line x1="223.85" y1="244.4" x2="223.85" y2="251.5" stroke="#a8a8a8" stroke-width="1" />
<line x1="222.75" y1="244.4" x2="224.95" y2="244.4" stroke="#a8a8a8" stroke-width="1" />
<text x="223.85" y="286.3" font-size="8.8" text-anchor="middle" fill="#000" letter-spacing="-0.35">13</text>
<text x="1.2" y="302.0" font-size="8" text-anchor="start" fill="#000" >G&#945;<tspan font-size="6.6" dy="2.3">i3</tspan><tspan dy="-2.3">NT* RNA (ng)</tspan></text>
<text x="71.1" y="302.0" font-size="8" text-anchor="middle" fill="#000" >-</text>
<text x="89.3" y="302.0" font-size="8" text-anchor="middle" fill="#000" >5</text>
<text x="108.0" y="302.0" font-size="8" text-anchor="middle" fill="#000" >10</text>
<text x="126.5" y="302.0" font-size="8" text-anchor="middle" fill="#000" >25</text>
<text x="170.8" y="302.0" font-size="8" text-anchor="middle" fill="#000" >-</text>
<text x="189.0" y="302.0" font-size="8" text-anchor="middle" fill="#000" >5</text>
<text x="207.0" y="302.0" font-size="8" text-anchor="middle" fill="#000" >10</text>
<text x="224.7" y="302.0" font-size="8" text-anchor="middle" fill="#000" >25</text>
<text x="251.8" y="177.2" font-size="10" text-anchor="start" fill="#000" >D</text>
<path d="M299.5,176 C297.5,179 298.5,182 302,182.6 C305,183 307,182 309.5,181.8" fill="none" stroke="#000" stroke-width="0.8" stroke-linejoin="round" />
<path d="M308.5,172.5 C311,172.5 312.5,174.5 311.5,177" fill="none" stroke="#000" stroke-width="0.8" stroke-linejoin="round" />
<path d="M57,53 C58.7,54.5 63.3,58.3 67,62 C70.7,65.7 74.8,72.6 79,75 C83.2,77.4 88.5,78.3 92,76.5 C95.5,74.7 99.8,70.1 100,64 C100.2,57.9 98.5,49.7 93,40 C87.5,30.3 75.5,12.7 67,6 C58.5,-0.7 50.7,-0.5 42,0 C33.3,0.5 21.8,1.2 15,9 C8.2,16.8 1.5,36.3 1,47 C0.5,57.7 6.5,66.8 12,73 C17.5,79.2 28.0,84.2 34,84 C40.0,83.8 44.2,77.2 48,72 C51.8,66.8 55.5,56.2 57,53 Z" transform="translate(301.1,180.9) scale(0.275,0.2761904761904762)" fill="#000"/>
<text x="301.5" y="195.6" font-size="8.3" text-anchor="start" fill="#fff" >G&#945;117</text>
<text x="313.9" y="188.0" font-size="6" text-anchor="middle" fill="#fff" >*</text>
<circle cx="304.3" cy="175.7" r="5.0" fill="#6edc14" stroke="#111" stroke-width="0.9"/>
<line x1="309.5" y1="208.5" x2="309.5" y2="287.3" stroke="#000" stroke-width="1" />
<line x1="309.5" y1="287.3" x2="393.1" y2="287.3" stroke="#000" stroke-width="1" />
<line x1="307.5" y1="287.3" x2="309.5" y2="287.3" stroke="#000" stroke-width="1" />
<text x="306.9" y="290.1" font-size="8" text-anchor="end" fill="#000" >0</text>
<line x1="307.5" y1="274.34000000000003" x2="309.5" y2="274.34000000000003" stroke="#000" stroke-width="1" />
<text x="306.9" y="277.14000000000004" font-size="8" text-anchor="end" fill="#000" >0.2</text>
<line x1="307.5" y1="248.42000000000002" x2="309.5" y2="248.42000000000002" stroke="#000" stroke-width="1" />
<text x="306.9" y="251.22000000000003" font-size="8" text-anchor="end" fill="#000" >0.6</text>
<line x1="307.5" y1="222.5" x2="309.5" y2="222.5" stroke="#000" stroke-width="1" />
<text x="306.9" y="225.3" font-size="8" text-anchor="end" fill="#000" >1.0</text>
<line x1="308.0" y1="261.38" x2="309.5" y2="261.38" stroke="#000" stroke-width="1" />
<line x1="308.0" y1="235.46" x2="309.5" y2="235.46" stroke="#000" stroke-width="1" />
<text transform="translate(289.0,243.8) rotate(-90)" font-size="8.1" text-anchor="middle" >YFP intensity, a.u. /1000</text>
<text x="327.7" y="285.5" font-size="8" text-anchor="middle" fill="#000" >6</text>
<line x1="321" y1="287.0" x2="334" y2="287.0" stroke="#000" stroke-width="0.8" />
<rect x="340.4" y="268.4" width="11.300000000000011" height="18.900000000000034" fill="#c4c4c4" stroke="#000" stroke-width="1"/>
<line x1="346.04999999999995" y1="265.0" x2="346.04999999999995" y2="268.4" stroke="#000" stroke-width="1" />
<line x1="345.04999999999995" y1="265.0" x2="347.04999999999995" y2="265.0" stroke="#000" stroke-width="1" />
<text x="346.04999999999995" y="285.40000000000003" font-size="8.8" text-anchor="middle" fill="#000" letter-spacing="-0.35">10</text>
<rect x="358.4" y="252.7" width="11.900000000000034" height="34.60000000000002" fill="#c4c4c4" stroke="#000" stroke-width="1"/>
<line x1="364.35" y1="247.8" x2="364.35" y2="252.7" stroke="#000" stroke-width="1" />
<line x1="363.35" y1="247.8" x2="365.35" y2="247.8" stroke="#000" stroke-width="1" />
<text x="364.35" y="285.40000000000003" font-size="8.8" text-anchor="middle" fill="#000" letter-spacing="-0.35">10</text>
<rect x="377.0" y="230.3" width="11.699999999999989" height="57.0" fill="#c4c4c4" stroke="#000" stroke-width="1"/>
<line x1="382.85" y1="213.9" x2="382.85" y2="230.3" stroke="#000" stroke-width="1" />
<line x1="381.85" y1="213.9" x2="383.85" y2="213.9" stroke="#000" stroke-width="1" />
<text x="382.85" y="285.40000000000003" font-size="8.8" text-anchor="middle" fill="#000" letter-spacing="-0.35">8</text>
<polyline points="327.0,270.0 327.0,219.7 379.7,219.7" fill="none" stroke="#000" stroke-width="1" stroke-linejoin="round" />
<polyline points="347.2,257.8 347.2,223.1 379.7,223.1" fill="none" stroke="#000" stroke-width="1" stroke-linejoin="round" />
<text x="321.9" y="233.3" font-size="6.5" text-anchor="middle" fill="#000" >**</text>
<text x="345.0" y="240.0" font-size="6.5" text-anchor="middle" fill="#000" >*</text>
<text x="364.4" y="245.6" font-size="6.5" text-anchor="middle" fill="#000" >*</text>
<line x1="409.5" y1="210.0" x2="409.5" y2="287.1" stroke="#000" stroke-width="1" />
<line x1="409.5" y1="287.1" x2="489.5" y2="287.1" stroke="#000" stroke-width="1" />
<line x1="407.5" y1="287.1" x2="409.5" y2="287.1" stroke="#000" stroke-width="1" />
<text x="406.9" y="289.90000000000003" font-size="8" text-anchor="end" fill="#000" >0</text>
<line x1="407.5" y1="261.8" x2="409.5" y2="261.8" stroke="#000" stroke-width="1" />
<text x="406.9" y="264.6" font-size="8" text-anchor="end" fill="#000" >1</text>
<line x1="407.5" y1="236.50000000000003" x2="409.5" y2="236.50000000000003" stroke="#000" stroke-width="1" />
<text x="406.9" y="239.30000000000004" font-size="8" text-anchor="end" fill="#000" >2</text>
<line x1="407.5" y1="211.20000000000002" x2="409.5" y2="211.20000000000002" stroke="#000" stroke-width="1" />
<text x="406.9" y="214.00000000000003" font-size="8" text-anchor="end" fill="#000" >3</text>
<line x1="408.0" y1="274.45000000000005" x2="409.5" y2="274.45000000000005" stroke="#000" stroke-width="1" />
<line x1="408.0" y1="249.15000000000003" x2="409.5" y2="249.15000000000003" stroke="#000" stroke-width="1" />
<line x1="408.0" y1="223.85000000000002" x2="409.5" y2="223.85000000000002" stroke="#000" stroke-width="1" />
<text transform="translate(399.5,247.3) rotate(-90)" font-size="8.3" text-anchor="middle" >I (&#181;A)</text>
<rect x="417.4" y="206.3" width="13.4" height="6.0" fill="#c4c4c4" stroke="#000" stroke-width="1"/>
<rect x="417.4" y="215.7" width="13.4" height="6.7" fill="#000" stroke="#000" stroke-width="1"/>
<text x="432.4" y="211.6" font-size="8" text-anchor="start" fill="#000" >I<tspan font-size="7.2" dy="3.0">basal</tspan></text>
<text x="432.4" y="221.6" font-size="8" text-anchor="start" fill="#000" >I<tspan font-size="7.4" dy="3.9">ACh</tspan></text>
<rect x="420.9" y="264.6" width="11.700000000000045" height="22.5" fill="#c4c4c4" stroke="#000" stroke-width="1"/>
<line x1="426.75" y1="257.8" x2="426.75" y2="264.1" stroke="#bbb" stroke-width="1" />
<line x1="425.65" y1="257.8" x2="427.85" y2="257.8" stroke="#bbb" stroke-width="1" />
<text x="426.75" y="285.20000000000005" font-size="8.8" text-anchor="middle" fill="#000" letter-spacing="-0.35">8</text>
<rect x="438.9" y="247.0" width="11.600000000000023" height="40.10000000000002" fill="#000" stroke="#000" stroke-width="1"/>
<line x1="444.7" y1="242.2" x2="444.7" y2="247.0" stroke="#000" stroke-width="1" />
<line x1="443.59999999999997" y1="242.2" x2="445.8" y2="242.2" stroke="#000" stroke-width="1" />
<rect x="438.9" y="263.9" width="11.600000000000023" height="23.200000000000045" fill="#c4c4c4" stroke="#000" stroke-width="1"/>
<line x1="444.7" y1="260.0" x2="444.7" y2="263.4" stroke="#a8a8a8" stroke-width="1" />
<line x1="443.59999999999997" y1="260.0" x2="445.8" y2="260.0" stroke="#a8a8a8" stroke-width="1" />
<text x="444.7" y="285.20000000000005" font-size="8.8" text-anchor="middle" fill="#000" letter-spacing="-0.35">8</text>
<rect x="456.8" y="253.4" width="11.199999999999989" height="33.70000000000002" fill="#000" stroke="#000" stroke-width="1"/>
<line x1="462.4" y1="247.5" x2="462.4" y2="253.4" stroke="#000" stroke-width="1" />
<line x1="461.29999999999995" y1="247.5" x2="463.5" y2="247.5" stroke="#000" stroke-width="1" />
<rect x="456.8" y="270.6" width="11.199999999999989" height="16.5" fill="#c4c4c4" stroke="#000" stroke-width="1"/>
<line x1="462.4" y1="266.8" x2="462.4" y2="270.1" stroke="#a8a8a8" stroke-width="1" />
<line x1="461.29999999999995" y1="266.8" x2="463.5" y2="266.8" stroke="#a8a8a8" stroke-width="1" />
<text x="462.4" y="285.20000000000005" font-size="8.8" text-anchor="middle" fill="#000" letter-spacing="-0.35">10</text>
<rect x="474.4" y="273.3" width="11.400000000000034" height="13.800000000000011" fill="#000" stroke="#000" stroke-width="1"/>
<line x1="480.1" y1="271.2" x2="480.1" y2="273.3" stroke="#000" stroke-width="1" />
<line x1="479.0" y1="271.2" x2="481.20000000000005" y2="271.2" stroke="#000" stroke-width="1" />
<rect x="474.4" y="282.0" width="11.400000000000034" height="5.100000000000023" fill="#c4c4c4" stroke="#000" stroke-width="1"/>
<line x1="480.1" y1="279.1" x2="480.1" y2="281.5" stroke="#a8a8a8" stroke-width="1" />
<line x1="479.0" y1="279.1" x2="481.20000000000005" y2="279.1" stroke="#a8a8a8" stroke-width="1" />
<text x="480.0" y="280.0" font-size="5.5" text-anchor="middle" fill="#999" >**</text>
<text x="489.6" y="284.6" font-size="8.8" text-anchor="middle" fill="#000" >9</text>
<polyline points="443.4,228.2 481.5,228.2 481.5,267.3" fill="none" stroke="#000" stroke-width="1" stroke-linejoin="round" />
<polyline points="462.9,238.6 479.2,238.6 479.2,267.3" fill="none" stroke="#000" stroke-width="1" stroke-linejoin="round" />
<text x="460.0" y="229.8" font-size="6.5" text-anchor="middle" fill="#000" >**</text>
<text x="469.6" y="238.8" font-size="6.5" text-anchor="middle" fill="#000" >*</text>
<rect x="490.9" y="292.5" width="1.2" height="12.5" fill="#888"/>
<rect x="254.2" y="292.8" width="236.0" height="11.2" fill="#fff" stroke="#000" stroke-width="0.9"/>
<text x="255.4" y="300.1" font-size="8" text-anchor="start" fill="#000" >G&#945;<tspan font-size="6.6" dy="2.3">i3</tspan><tspan dy="-2.3">117* RNA (ng)</tspan></text>
<text x="328.0" y="301.3" font-size="8" text-anchor="middle" fill="#000" >-</text>
<text x="346.6" y="301.3" font-size="8" text-anchor="middle" fill="#000" >2.5</text>
<text x="365.4" y="301.3" font-size="8" text-anchor="middle" fill="#000" >5</text>
<text x="381.8" y="301.3" font-size="8" text-anchor="middle" fill="#000" >10</text>
<text x="425.9" y="301.3" font-size="8" text-anchor="middle" fill="#000" >-</text>
<text x="445.1" y="301.3" font-size="8" text-anchor="middle" fill="#000" >2.5</text>
<text x="463.1" y="301.3" font-size="8" text-anchor="middle" fill="#000" >5</text>
<text x="480.8" y="301.3" font-size="8" text-anchor="middle" fill="#000" >10</text>
<text x="-0.9" y="322.6" font-size="9" text-anchor="start" fill="#000" font-weight="bold">E</text>
<path d="M80.8,334.5 C82,337 84,339.5 88,340.2" fill="none" stroke="#000" stroke-width="0.8" stroke-linejoin="round" />
<path d="M57,53 C58.7,54.5 63.3,58.3 67,62 C70.7,65.7 74.8,72.6 79,75 C83.2,77.4 88.5,78.3 92,76.5 C95.5,74.7 99.8,70.1 100,64 C100.2,57.9 98.5,49.7 93,40 C87.5,30.3 75.5,12.7 67,6 C58.5,-0.7 50.7,-0.5 42,0 C33.3,0.5 21.8,1.2 15,9 C8.2,16.8 1.5,36.3 1,47 C0.5,57.7 6.5,66.8 12,73 C17.5,79.2 28.0,84.2 34,84 C40.0,83.8 44.2,77.2 48,72 C51.8,66.8 55.5,56.2 57,53 Z" transform="translate(55.9,316.1) scale(0.27399999999999997,0.2785714285714286)" fill="#000"/>
<text x="56.7" y="330.4" font-size="8.3" text-anchor="start" fill="#fff" >G&#945;CT</text>
<text x="68.1" y="323.3" font-size="6" text-anchor="middle" fill="#fff" >*</text>
<circle cx="92.9" cy="340.5" r="5.0" fill="#6edc14" stroke="#111" stroke-width="0.9"/>
<line x1="62.2" y1="349.8" x2="62.2" y2="428.7" stroke="#000" stroke-width="1" />
<line x1="62.2" y1="428.7" x2="131.0" y2="428.7" stroke="#000" stroke-width="1" />
<line x1="60.2" y1="428.7" x2="62.2" y2="428.7" stroke="#000" stroke-width="1" />
<text x="59.6" y="431.5" font-size="8" text-anchor="end" fill="#000" >0</text>
<line x1="60.2" y1="402.5" x2="62.2" y2="402.5" stroke="#000" stroke-width="1" />
<text x="59.6" y="405.3" font-size="8" text-anchor="end" fill="#000" >0.2</text>
<line x1="60.2" y1="376.29999999999995" x2="62.2" y2="376.29999999999995" stroke="#000" stroke-width="1" />
<text x="59.6" y="379.09999999999997" font-size="8" text-anchor="end" fill="#000" >0.4</text>
<line x1="60.2" y1="350.1" x2="62.2" y2="350.1" stroke="#000" stroke-width="1" />
<text x="59.6" y="352.90000000000003" font-size="8" text-anchor="end" fill="#000" >0.6</text>
<line x1="60.7" y1="415.59999999999997" x2="62.2" y2="415.59999999999997" stroke="#000" stroke-width="1" />
<line x1="60.7" y1="389.4" x2="62.2" y2="389.4" stroke="#000" stroke-width="1" />
<line x1="60.7" y1="363.2" x2="62.2" y2="363.2" stroke="#000" stroke-width="1" />
<text transform="translate(40.9,384.4) rotate(-90)" font-size="8.2" text-anchor="middle" >YFP intensity, a.u. /1000</text>
<line x1="75.2" y1="428.3" x2="86.3" y2="428.3" stroke="#000" stroke-width="0.8" />
<text x="81.8" y="425.8" font-size="8.8" text-anchor="middle" fill="#000" >8</text>
<rect x="92.4" y="421.4" width="11.099999999999994" height="7.300000000000011" fill="#c4c4c4" stroke="#000" stroke-width="1"/>
<line x1="97.95" y1="419.9" x2="97.95" y2="421.4" stroke="#000" stroke-width="1" />
<line x1="96.95" y1="419.9" x2="98.95" y2="419.9" stroke="#000" stroke-width="1" />
<text x="97.95" y="426.8" font-size="8.8" text-anchor="middle" fill="#000" letter-spacing="-0.35">4</text>
<rect x="110.6" y="374.3" width="11.400000000000006" height="54.39999999999998" fill="#c4c4c4" stroke="#000" stroke-width="1"/>
<line x1="116.3" y1="359.7" x2="116.3" y2="374.3" stroke="#000" stroke-width="1" />
<line x1="115.3" y1="359.7" x2="117.3" y2="359.7" stroke="#000" stroke-width="1" />
<text x="116.3" y="426.8" font-size="8.8" text-anchor="middle" fill="#000" letter-spacing="-0.35">6</text>
<text x="116.5" y="358.4" font-size="6.5" text-anchor="middle" fill="#000" >**</text>
<line x1="161.7" y1="350.0" x2="161.7" y2="429.9" stroke="#000" stroke-width="1" />
<line x1="161.7" y1="429.9" x2="231.2" y2="429.9" stroke="#000" stroke-width="1" />
<line x1="159.7" y1="429.9" x2="161.7" y2="429.9" stroke="#000" stroke-width="1" />
<text x="159.1" y="432.7" font-size="8" text-anchor="end" fill="#000" >0</text>
<line x1="159.7" y1="410.2" x2="161.7" y2="410.2" stroke="#000" stroke-width="1" />
<text x="159.1" y="413.0" font-size="8" text-anchor="end" fill="#000" >2</text>
<line x1="159.7" y1="390.5" x2="161.7" y2="390.5" stroke="#000" stroke-width="1" />
<text x="159.1" y="393.3" font-size="8" text-anchor="end" fill="#000" >4</text>
<line x1="159.7" y1="370.79999999999995" x2="161.7" y2="370.79999999999995" stroke="#000" stroke-width="1" />
<text x="159.1" y="373.59999999999997" font-size="8" text-anchor="end" fill="#000" >6</text>
<line x1="159.7" y1="351.09999999999997" x2="161.7" y2="351.09999999999997" stroke="#000" stroke-width="1" />
<text x="159.1" y="353.9" font-size="8" text-anchor="end" fill="#000" >8</text>
<text transform="translate(152.4,392.5) rotate(-90)" font-size="8.3" text-anchor="middle" >I (&#181;A)</text>
<rect x="174.6" y="375.7" width="10.5" height="54.19999999999999" fill="#000" stroke="#000" stroke-width="1"/>
<line x1="179.85" y1="360.1" x2="179.85" y2="375.7" stroke="#000" stroke-width="1" />
<line x1="178.75" y1="360.1" x2="180.95" y2="360.1" stroke="#000" stroke-width="1" />
<rect x="174.6" y="378.0" width="10.5" height="51.89999999999998" fill="#c4c4c4" stroke="#000" stroke-width="1"/>
<text x="179.85" y="428.0" font-size="8.8" text-anchor="middle" fill="#000" letter-spacing="-0.35">7</text>
<rect x="191.7" y="408.4" width="10.700000000000017" height="21.5" fill="#c4c4c4" stroke="#000" stroke-width="1"/>
<line x1="197.05" y1="400.6" x2="197.05" y2="408.4" stroke="#000" stroke-width="1" />
<line x1="196.05" y1="400.6" x2="198.05" y2="400.6" stroke="#000" stroke-width="1" />
<text x="197.05" y="428.0" font-size="8.8" text-anchor="middle" fill="#000" letter-spacing="-0.35">6</text>
<rect x="208.8" y="393.8" width="10.699999999999989" height="36.099999999999966" fill="#c4c4c4" stroke="#000" stroke-width="1"/>
<line x1="214.15" y1="384.5" x2="214.15" y2="393.8" stroke="#000" stroke-width="1" />
<line x1="213.15" y1="384.5" x2="215.15" y2="384.5" stroke="#000" stroke-width="1" />
<text x="214.15" y="428.0" font-size="8.8" text-anchor="middle" fill="#000" letter-spacing="-0.35">8</text>
<rect x="7.7" y="434.3" width="224.3" height="11.1" fill="#fff" stroke="#000" stroke-width="0.9"/>
<text x="8.7" y="442.2" font-size="8" text-anchor="start" fill="#000" >G&#945;<tspan font-size="6.6" dy="2.3">i3</tspan><tspan dy="-2.3">CT* RNA (ng)</tspan></text>
<text x="80.5" y="442.2" font-size="8" text-anchor="middle" fill="#000" >-</text>
<text x="97.8" y="442.2" font-size="8" text-anchor="middle" fill="#000" >1</text>
<text x="117.1" y="442.2" font-size="8" text-anchor="middle" fill="#000" >5</text>
<text x="180.0" y="442.2" font-size="8" text-anchor="middle" fill="#000" >-</text>
<text x="196.9" y="442.2" font-size="8" text-anchor="middle" fill="#000" >1</text>
<text x="214.7" y="442.2" font-size="8" text-anchor="middle" fill="#000" >5</text>
</svg></body></html>
